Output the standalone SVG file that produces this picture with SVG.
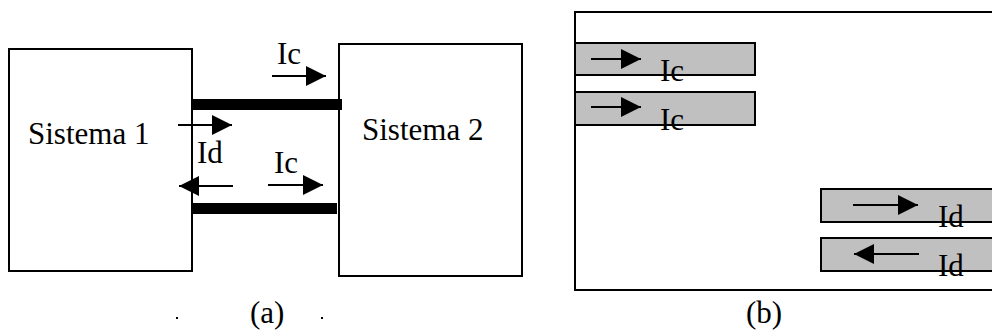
<svg xmlns="http://www.w3.org/2000/svg" width="992" height="336" viewBox="0 0 992 336">
  <defs>
    <marker id="head" viewBox="0 0 20 20" refX="20" refY="10" markerWidth="20" markerHeight="20" markerUnits="userSpaceOnUse" orient="auto">
      <path d="M0,0 L20,10 L0,20 Z" fill="#000"/>
    </marker>
    <style>
      .box { fill: #fff; stroke: #000; stroke-width: 2; }
      .bar { fill: #c0c0c0; stroke: #000; stroke-width: 2; }
      .bus { fill: #000; }
      .arr { stroke: #000; stroke-width: 2; fill: none; marker-end: url(#head); }
      text { font-family: "Liberation Serif", "Times New Roman", serif; font-size: 31px; fill: #000; }
    </style>
  </defs>

  <!-- (a) two systems joined by two lines -->
  <g id="sistema1">
    <rect class="box" x="9" y="49" width="183" height="222"/>
    <text x="28" y="144">Sistema 1</text>
  </g>
  <g id="sistema2">
    <rect class="box" x="339" y="44" width="183" height="232"/>
    <text x="362" y="140">Sistema 2</text>
  </g>

  <g id="connectors">
    <rect class="bus" x="192" y="99" width="150" height="11"/>
    <rect class="bus" x="192" y="203" width="145" height="11"/>
    <line class="arr" x1="272" y1="76" x2="326" y2="76"/>
    <line class="arr" x1="178" y1="125" x2="232" y2="125"/>
    <line class="arr" x1="233" y1="186" x2="179" y2="186"/>
    <line class="arr" x1="268" y1="185" x2="323" y2="185"/>
  </g>

  <g id="current-labels-a">
    <text x="277" y="64">Ic</text>
    <text x="197" y="163">Id</text>
    <text x="274" y="173">Ic</text>
  </g>

  <!-- caption (a) -->
  <g id="caption-a">
    <rect x="176" y="317" width="2" height="2" fill="#000"/>
    <rect x="321" y="317" width="2" height="2" fill="#000"/>
    <text x="250" y="323">(a)</text>
  </g>

  <!-- (b) frame with current bars -->
  <g id="frame-b">
    <rect class="box" x="575" y="12" width="430" height="278"/>
  </g>

  <g id="bar-ic-1">
    <rect class="bar" x="575" y="43" width="180" height="32"/>
    <line class="arr" x1="591" y1="59" x2="641" y2="59"/>
    <text x="660" y="81">Ic</text>
  </g>
  <g id="bar-ic-2">
    <rect class="bar" x="575" y="92" width="180" height="33"/>
    <line class="arr" x1="591" y1="107" x2="641" y2="107"/>
    <text x="660" y="130">Ic</text>
  </g>
  <g id="bar-id-1">
    <rect class="bar" x="821" y="189" width="190" height="33"/>
    <line class="arr" x1="853" y1="205" x2="918" y2="205"/>
    <text x="938" y="227">Id</text>
  </g>
  <g id="bar-id-2">
    <rect class="bar" x="821" y="238" width="190" height="33"/>
    <line class="arr" x1="919" y1="254" x2="854" y2="254"/>
    <text x="938" y="276">Id</text>
  </g>

  <g id="caption-b">
    <text x="746" y="323">(b)</text>
  </g>
</svg>
